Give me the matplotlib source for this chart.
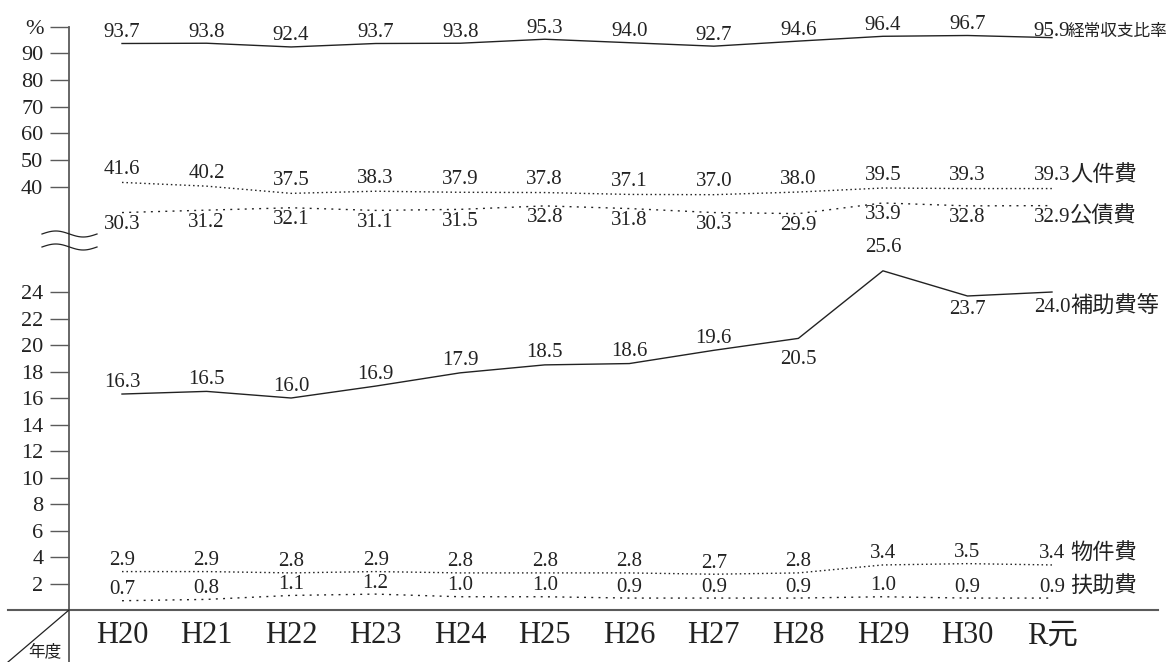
import numpy as np
import matplotlib
matplotlib.use('Agg')
import matplotlib.pyplot as plt
from matplotlib.lines import Line2D

# ---------------- data ----------------
years = ['H20', 'H21', 'H22', 'H23', 'H24', 'H25', 'H26', 'H27', 'H28', 'H29', 'H30', 'R元']
keijo = [93.7, 93.8, 92.4, 93.7, 93.8, 95.3, 94.0, 92.7, 94.6, 96.4, 96.7, 95.9]
jinken = [41.6, 40.2, 37.5, 38.3, 37.9, 37.8, 37.1, 37.0, 38.0, 39.5, 39.3, 39.3]
kosai = [30.3, 31.2, 32.1, 31.1, 31.5, 32.8, 31.8, 30.3, 29.9, 33.9, 32.8, 32.9]
hojo = [16.3, 16.5, 16.0, 16.9, 17.9, 18.5, 18.6, 19.6, 20.5, 25.6, 23.7, 24.0]
buken = [2.9, 2.9, 2.8, 2.9, 2.8, 2.8, 2.8, 2.7, 2.8, 3.4, 3.5, 3.4]
fujo = [0.7, 0.8, 1.1, 1.2, 1.0, 1.0, 0.9, 0.9, 0.9, 1.0, 0.9, 0.9]

names = ['経常収支比率', '人件費', '公債費', '補助費等', '物件費', '扶助費']
upper_ticks = [40, 50, 60, 70, 80, 90, 100]
upper_labels = ['40', '50', '60', '70', '80', '90', '%']
lower_ticks = [2, 4, 6, 8, 10, 12, 14, 16, 18, 20, 22, 24]

# ---------------- style ----------------
W, H = 1175, 662
DPI = 100
INK = '#222222'
AX = '#5a5a5a'
LAT = ['Liberation Serif', 'Noto Sans CJK JP']
plt.rcParams['font.family'] = LAT

# broken-axis mapping (value -> height), piecewise linear
V_KN = np.array([-100.0, 0.0, 26.0, 29.0, 200.0])
H_KN = np.array([-1325.0, 0.0, 344.5, 394.0, 850.0])

def fwd(v):
    return np.interp(v, V_KN, H_KN)

def inv(h):
    return np.interp(h, H_KN, V_KN)

def fx(px):
    return px / W

def fy(py):
    return 1 - py / H

fig = plt.figure(figsize=(W / DPI, H / DPI), dpi=DPI)
ax = fig.add_axes([fx(8), fy(610), (1158 - 8) / W, (610 - 26.7) / H])
ax.set_yscale('function', functions=(fwd, inv))
ax.set_ylim(0, 100)

x0px, step = 122.0, (1052.0 - 122.0) / 11
ax.set_xlim((8 - x0px) / step, (1158 - x0px) / step)
x = np.arange(len(years))

for s in ['top', 'right']:
    ax.spines[s].set_visible(False)
ax.spines['left'].set_position(('data', (69 - x0px) / step))
ax.spines['left'].set_color(AX)
ax.spines['left'].set_linewidth(1.3)
ax.spines['bottom'].set_color(AX)
ax.spines['bottom'].set_linewidth(1.5)

ax.set_yticks(lower_ticks + upper_ticks)
ax.set_yticklabels([str(t) for t in lower_ticks] + upper_labels)
ax.tick_params(axis='y', direction='out', length=13.5, width=1.0, color=AX,
               pad=5, labelsize=16, labelcolor=INK)
ax.set_xticks(x)
ax.set_xticklabels(years)
ax.tick_params(axis='x', length=0, pad=8.0, labelsize=22, labelcolor=INK)

dense = (0, (1.1, 2.1))
sparse = (0, (1.4, 3.8))
# (values, linestyle, label offsets px, name size, name x-offset px)
series = [
    (keijo, '-', [11] * 11 + [6], 12, 16),
    (jinken, dense, [13] * 12, 16, 18),
    (kosai, sparse, [-12] * 12, 16, 18),
    (hojo, '-', [12] * 8 + [-21, 23, -14, -15], 16, 18),
    (buken, dense, [11] * 12, 16, 18),
    (fujo, sparse, [11] * 12, 16, 18),
]

for (vals, ls, offs, nsize, nx), name in zip(series, names):
    ax.plot(x, vals, color=INK, lw=1.0, linestyle=ls, clip_on=False)
    for xi, v, o in zip(x, vals, offs):
        ax.annotate(f'{v:.1f}', (xi, v), xytext=(0, o * 0.72), textcoords='offset points',
                    ha='center', va='center', fontsize=15, color=INK)
    ax.annotate(name, (x[-1], vals[-1]), xytext=(nx * 0.72, offs[-1] * 0.72),
                textcoords='offset points', ha='left', va='center',
                fontsize=nsize, color=INK)

# decorative: axis extension, diagonal corner, break marks, corner label
fig.add_artist(Line2D([fx(69), fx(69)], [fy(610), fy(662)], color=AX, lw=1.3))
fig.add_artist(Line2D([fx(69), fx(8)], [fy(610), fy(662)], color=INK, lw=0.9))
xs = np.linspace(42, 97, 60)
for yc in (234, 247):
    ys = yc - 3.0 * np.sin(2 * np.pi * (xs - 42) / 55.0)
    fig.add_artist(Line2D(fx(xs), fy(ys), color=INK, lw=0.9))
fig.text(fx(28), fy(644), '年度', ha='left', va='top', fontsize=12, color=INK)

fig.savefig('out.png', dpi=DPI)
